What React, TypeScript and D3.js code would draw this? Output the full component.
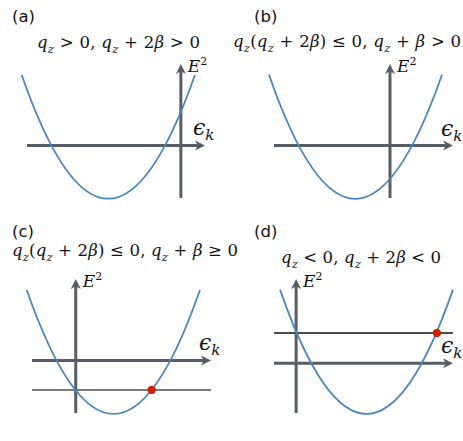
import React from 'react';
import * as d3 from 'd3';

// ---- data ----
const panelLabels = ['(a)', '(b)', '(c)', '(d)'];
const panelTitles = [
  'q_z > 0, q_z + 2β > 0',
  'q_z(q_z + 2β) ≤ 0, q_z + β > 0',
  'q_z(q_z + 2β) ≤ 0, q_z + β ≥ 0',
  'q_z < 0, q_z + 2β < 0',
];
// axis extents (epsilon_k horizontal, E^2 vertical), data units
const epsMin = [-6.12, -4.64, -1.74, -0.88];
const epsMax = [0.96, 2.52, 5.38, 6.24];
const e2Min = [-5.1, -5.07, -5.1, -4.83];
const e2Max = [7.9, 7.9, 7.9, 8.15];
// parabola: endpoints and vertex
const curveLeft = [-6.33, -4.84, -1.95, -0.64];
const curveRight = [0.56, 2.08, 4.94, 6.24];
const curveTop = [6.84, 6.86, 6.84, 7.12];
const vertexEps = [-2.9, -1.4, 1.51, 2.8];
const vertexE2 = [-5.17, -5.15, -5.19, -4.92];
// horizontal reference lines and red points
const lineLevel: (number | null)[] = [null, null, -2.86, 2.92];
const dotEps: (number | null)[] = [null, null, 3.02, 5.6];

// ---- layout ----
const W = 463;
const H = 441;
const frames = [
  { x0: 27, x1: 205, y0: 198, y1: 64 },
  { x0: 274, x1: 453, y0: 198, y1: 64 },
  { x0: 32, x1: 211, y0: 413, y1: 279 },
  { x0: 274, x1: 453, y0: 413, y1: 279 },
];
const labelPos = [
  { x: 12, y: 22 },
  { x: 254, y: 22 },
  { x: 12, y: 237 },
  { x: 254, y: 237 },
];
const titlePos = [
  { x: 118.5, y: 48 },
  { x: 347, y: 47 },
  { x: 125, y: 256 },
  { x: 361, y: 263 },
];
const titleWidth = [163, 228, 226, 160];
const AXIS = '#575c65';
const BLUE = '#4a86c0';
const RED = '#cc2200';
const MATH = "'DejaVu Serif', 'Liberation Serif', serif";

type Seg = { t: string; k: 'i' | 'r' | 'sub' };
function parseMath(s: string): Seg[] {
  const segs: Seg[] = [];
  const push = (t: string, k: Seg['k']) => {
    const last = segs[segs.length - 1];
    if (last && last.k === k && k !== 'sub') last.t += t;
    else segs.push({ t, k });
  };
  for (let i = 0; i < s.length; i++) {
    const c = s[i];
    if (c === '_') {
      push(s[i + 1], 'sub');
      i++;
    } else if (/[a-zA-Zα-ωϵ]/.test(c)) push(c, 'i');
    else push(c, 'r');
  }
  return segs;
}

function MathText({ s, x, y, size, anchor, width }: { s: string; x: number; y: number; size: number; anchor?: string; width?: number }) {
  const segs = parseMath(s);
  let shifted = 0;
  const out: React.ReactNode[] = [];
  segs.forEach((g, i) => {
    const target = g.k === 'sub' ? size * 0.28 : 0;
    const dy = target - shifted;
    shifted = target;
    out.push(
      <tspan
        key={i}
        dy={dy}
        fontStyle={g.k === 'r' ? 'normal' : 'italic'}
        fontSize={g.k === 'sub' ? size * 0.7 : size}
      >
        {g.t}
      </tspan>
    );
  });
  return (
    <text
      x={x}
      y={y}
      fontFamily={MATH}
      fontSize={size}
      textAnchor={anchor || 'start'}
      fill="#111"
      style={{ whiteSpace: 'pre' }}
      textLength={width}
      lengthAdjust="spacing"
    >
      {out}
    </text>
  );
}

function Panel({ i }: { i: number }) {
  const f = frames[i];
  const xs = d3.scaleLinear().domain([epsMin[i], epsMax[i]]).range([f.x0, f.x1]);
  const ys = d3.scaleLinear().domain([e2Min[i], e2Max[i]]).range([f.y0, f.y1]);
  const ox = xs(0);
  const oy = ys(0);

  const p = d3.path();
  p.moveTo(xs(curveLeft[i]), ys(curveTop[i]));
  p.quadraticCurveTo(xs(vertexEps[i]), ys(2 * vertexE2[i] - curveTop[i]), xs(curveRight[i]), ys(curveTop[i]));

  const ah = 10;
  const aw = 5;
  const upTip = ys(e2Max[i]);
  const rightTip = xs(epsMax[i]);
  const upArrow = `M${ox},${upTip} L${ox - aw},${upTip + ah} L${ox},${upTip + ah * 0.72} L${ox + aw},${upTip + ah} Z`;
  const rightArrow = `M${rightTip},${oy} L${rightTip - ah},${oy - aw} L${rightTip - ah * 0.72},${oy} L${rightTip - ah},${oy + aw} Z`;

  const lvl = lineLevel[i];
  const dE = dotEps[i];

  return (
    <g>
      <text x={labelPos[i].x} y={labelPos[i].y} fontFamily="'DejaVu Sans', sans-serif" fontSize={16.5} fill="#111">
        {panelLabels[i]}
      </text>
      <MathText s={panelTitles[i]} x={titlePos[i].x} y={titlePos[i].y} size={16.5} anchor="middle" width={titleWidth[i]} />
      {lvl !== null && (
        <line
          x1={xs(epsMin[i])}
          x2={xs(epsMax[i])}
          y1={ys(lvl)}
          y2={ys(lvl)}
          stroke={i === 2 ? '#7a7a7a' : '#111'}
          strokeWidth={i === 2 ? 2 : 1.3}
        />
      )}
      <line x1={xs(epsMin[i])} x2={rightTip - ah * 0.6} y1={oy} y2={oy} stroke={AXIS} strokeWidth={3} />
      <line x1={ox} x2={ox} y1={ys(e2Min[i])} y2={upTip + ah * 0.6} stroke={AXIS} strokeWidth={3} />
      <path d={upArrow} fill={AXIS} />
      <path d={rightArrow} fill={AXIS} />
      <path d={p.toString()} fill="none" stroke={BLUE} strokeWidth={1.8} />
      {lvl !== null && dE !== null && <circle cx={xs(dE)} cy={ys(lvl)} r={4.2} fill={RED} />}
      <text x={ox + 7} y={upTip + 8} fontFamily={MATH} fontSize={17} fill="#111">
        <tspan fontStyle="italic">E</tspan>
        <tspan fontSize={11} dy={-7}>2</tspan>
      </text>
      <text x={rightTip - 12} y={oy - 10} fontFamily={MATH} fontSize={22} fill="#111">
        <tspan fontStyle="italic">ϵ</tspan>
        <tspan fontStyle="italic" fontSize={15} dy={5}>k</tspan>
      </text>
    </g>
  );
}

export default function App() {
  return (
    <svg width={W} height={H} style={{ display: 'block', position: 'absolute', left: 0, top: 0 }}>
      <rect width={W} height={H} fill="#fff" />
      {[0, 1, 2, 3].map((i) => (
        <Panel key={i} i={i} />
      ))}
    </svg>
  );
}
